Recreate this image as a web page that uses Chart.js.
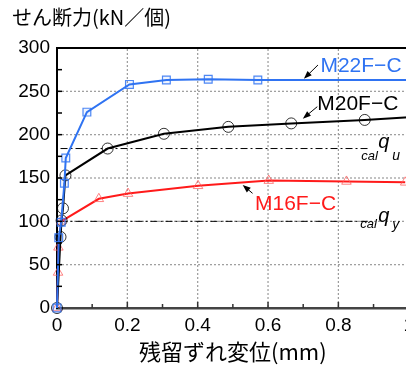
<!DOCTYPE html>
<html>
<head>
<meta charset="utf-8">
<script src="https://cdn.jsdelivr.net/npm/chart.js@4.4.0/dist/chart.umd.min.js"></script>
<style>
  html, body { margin: 0; padding: 0; background: #fff; overflow: hidden; }
  #wrap { width: 406px; height: 367px; overflow: hidden; }
</style>
</head>
<body>
<div id="wrap"><canvas id="chartCanvas" width="420" height="367"></canvas></div>
<script>
// residual slip (mm) vs shear force per stud (kN)
const m22Slip  = [0, 0.005, 0.012, 0.021, 0.025, 0.085, 0.206, 0.311, 0.43, 0.571, 1.0];
const m22Force = [0, 81, 99, 144, 173, 226, 258, 263, 264, 263, 263];
const m20Slip  = [0, 0.01, 0.013, 0.017, 0.024, 0.144, 0.304, 0.487, 0.666, 0.875, 1.0];
const m20Force = [0, 82, 101, 115, 153, 184, 201, 209, 213, 217, 220];
const m16Slip  = [0, 0.003, 0.004, 0.012, 0.119, 0.202, 0.401, 0.602, 0.823, 0.99];
const m16Force = [0, 41, 70, 100, 126, 132, 141, 147, 146, 145];

// calculated strengths (dash-dot reference lines)
const refSlip = [0.01, 0.885];
const calQu = [184, 184];
const calQy = [100, 100];

// tick labels
const xLabeled = [0, 0.2, 0.4, 0.6, 0.8, 1];
const yLabeled = [0, 50, 100, 150, 200, 250, 300];

const BLUE = '#2f73f2';
const RED = '#ff1a1a';
const GRID = '#9a9a9a';

function pts(xs, ys) {
  return xs.map((x, i) => ({ x: x, y: ys[i] }));
}

// no marker on the last point (the line runs on past the frame)
function radii(n, r) {
  const a = [];
  for (let i = 0; i < n; i++) a.push(i === n - 1 ? 0 : r);
  return a;
}

function isLabeled(list, v) {
  return list.some(t => Math.abs(t - v) < 1e-6);
}

function arrow(ctx, x1, y1, x2, y2) {
  const ang = Math.atan2(y2 - y1, x2 - x1);
  ctx.save();
  ctx.strokeStyle = '#000';
  ctx.fillStyle = '#000';
  ctx.lineWidth = 1;
  ctx.beginPath();
  ctx.moveTo(x1, y1);
  ctx.lineTo(x2 - 5 * Math.cos(ang), y2 - 5 * Math.sin(ang));
  ctx.stroke();
  ctx.beginPath();
  ctx.moveTo(x2, y2);
  ctx.lineTo(x2 - 8 * Math.cos(ang) + 3 * Math.sin(ang), y2 - 8 * Math.sin(ang) - 3 * Math.cos(ang));
  ctx.lineTo(x2 - 8 * Math.cos(ang) - 3 * Math.sin(ang), y2 - 8 * Math.sin(ang) + 3 * Math.cos(ang));
  ctx.closePath();
  ctx.fill();
  ctx.restore();
}

function segment(ctx, x1, y1, x2, y2) {
  ctx.beginPath();
  ctx.moveTo(x1, y1);
  ctx.lineTo(x2, y2);
  ctx.stroke();
}

// dotted grid under the curves
const gridLayer = {
  id: 'gridLayer',
  beforeDatasetsDraw(chart) {
    const ctx = chart.ctx;
    const area = chart.chartArea;
    const xs = chart.scales.x;
    const ys = chart.scales.y;
    ctx.save();
    ctx.strokeStyle = GRID;
    ctx.lineWidth = 1.2;
    ctx.setLineDash([2, 2]);
    xLabeled.forEach(v => {
      if (v > 0 && v < 1) {
        const px = xs.getPixelForValue(v);
        segment(ctx, px, area.top + 1, px, area.bottom - 1);
      }
    });
    yLabeled.forEach(v => {
      if (v > 0 && v < 300) {
        const py = ys.getPixelForValue(v);
        segment(ctx, area.left + 1, py, area.right, py);
      }
    });
    ctx.restore();
  }
};

// frame top, inner tick marks, series labels and the cal q labels
const decorations = {
  id: 'decorations',
  afterDraw(chart) {
    const ctx = chart.ctx;
    const area = chart.chartArea;
    const xs = chart.scales.x;
    const ys = chart.scales.y;

    ctx.save();
    ctx.strokeStyle = '#000';
    ctx.lineWidth = 2;
    segment(ctx, area.left - 1, area.top, area.right, area.top);

    ctx.lineWidth = 1.5;
    ctx.strokeStyle = '#333';
    for (let i = 1; i <= 10; i++) {
      const px = xs.getPixelForValue(i / 10);
      const len = (i % 2 === 0) ? 6 : 4;
      segment(ctx, px, area.bottom, px, area.bottom - len);
    }
    ctx.strokeStyle = '#000';
    for (let v = 25; v < 300; v += 25) {
      const py = ys.getPixelForValue(v);
      segment(ctx, area.left, py, area.left + 5, py);
    }

    ctx.font = '21px "Liberation Sans", Arial, sans-serif';
    ctx.textBaseline = 'alphabetic';
    ctx.textAlign = 'left';
    ctx.fillStyle = BLUE;
    ctx.fillText('M22F\u2212C', xs.getPixelForValue(0.749), ys.getPixelForValue(272.7));
    ctx.fillStyle = '#000';
    ctx.fillText('M20F\u2212C', xs.getPixelForValue(0.74), ys.getPixelForValue(228.5));
    ctx.fillStyle = RED;
    ctx.fillText('M16F\u2212C', xs.getPixelForValue(0.563), ys.getPixelForValue(113));

    arrow(ctx, xs.getPixelForValue(0.742), ys.getPixelForValue(280.4), xs.getPixelForValue(0.702), ys.getPixelForValue(264.5));
    arrow(ctx, xs.getPixelForValue(0.74), ys.getPixelForValue(232.3), xs.getPixelForValue(0.699), ys.getPixelForValue(218.5));
    arrow(ctx, xs.getPixelForValue(0.556), ys.getPixelForValue(132.3), xs.getPixelForValue(0.528), ys.getPixelForValue(142));

    ctx.fillStyle = '#000';
    const quY = ys.getPixelForValue(calQu[0]);
    const qyY = ys.getPixelForValue(calQy[0]);
    const labX = xs.getPixelForValue(0.865);
    ctx.font = 'italic 13px "Liberation Sans", Arial, sans-serif';
    ctx.fillText('cal', labX, quY + 11);
    ctx.fillText('cal', labX - 1, qyY + 7);
    ctx.font = 'italic 14px "Liberation Sans", Arial, sans-serif';
    ctx.fillText('u', labX + 31, quY + 11);
    ctx.fillText('y', labX + 31, qyY + 8);
    ctx.font = 'italic 20px "Liberation Sans", Arial, sans-serif';
    ctx.fillText('q', labX + 17, quY - 1);
    ctx.fillText('q', labX + 17, qyY + 1);
    ctx.restore();
  }
};

const tickFont = { family: '"Liberation Sans", Arial, sans-serif', size: 19 };
const jpFont = '"Noto Sans CJK JP", "Noto Sans", sans-serif';

new Chart(document.getElementById('chartCanvas'), {
  type: 'line',
  data: {
    datasets: [
      {
        label: 'M22F-C',
        data: pts(m22Slip, m22Force),
        borderColor: BLUE,
        borderWidth: 2,
        pointStyle: 'rect',
        pointRadius: radii(m22Slip.length, 5.5),
        pointBorderColor: 'rgba(47,115,242,0.85)',
        pointBackgroundColor: 'rgba(47,115,242,0.08)',
        pointBorderWidth: 1.2,
        clip: false,
        order: 1
      },
      {
        label: 'M20F-C',
        data: pts(m20Slip, m20Force),
        borderColor: '#000',
        borderWidth: 2,
        pointStyle: 'circle',
        pointRadius: radii(m20Slip.length, 5.5),
        pointBorderColor: 'rgba(0,0,0,0.8)',
        pointBackgroundColor: 'rgba(0,0,0,0)',
        pointBorderWidth: 1,
        clip: false,
        order: 2
      },
      {
        label: 'M16F-C',
        data: pts(m16Slip, m16Force),
        borderColor: RED,
        borderWidth: 2,
        pointStyle: 'triangle',
        pointRadius: 5.5,
        pointBorderColor: 'rgba(255,90,90,0.75)',
        pointBackgroundColor: 'rgba(255,0,0,0)',
        pointBorderWidth: 1,
        clip: false,
        order: 3
      },
      {
        label: 'cal qu',
        data: pts(refSlip, calQu),
        borderColor: '#000',
        borderWidth: 1,
        borderDash: [7, 3, 2, 3],
        pointRadius: 0,
        order: 4
      },
      {
        label: 'cal qy',
        data: pts(refSlip, calQy),
        borderColor: '#000',
        borderWidth: 1,
        borderDash: [7, 3, 2, 3],
        pointRadius: 0,
        order: 4
      }
    ]
  },
  options: {
    responsive: false,
    animation: false,
    events: [],
    layout: { padding: { left: 12, right: 0, top: 0, bottom: 0 } },
    elements: { line: { tension: 0 } },
    plugins: {
      legend: { display: false },
      tooltip: { enabled: false },
      title: {
        display: true,
        text: 'せん断力(kN／個)',
        align: 'start',
        color: '#000',
        font: { family: jpFont, size: 20, weight: 'normal' },
        padding: { top: 5, bottom: 19 }
      }
    },
    scales: {
      x: {
        type: 'linear',
        min: 0,
        max: 1,
        afterFit(scale) { scale.height = 59; },
        ticks: {
          stepSize: 0.1,
          autoSkip: false,
          maxRotation: 0,
          padding: 6,
          color: '#000',
          font: tickFont,
          callback: v => isLabeled(xLabeled, v) ? String(+(+v).toFixed(1)) : ''
        },
        grid: { display: false, drawTicks: false },
        border: { color: '#444', width: 2.5 },
        title: {
          display: true,
          text: '残留ずれ変位(mm)',
          color: '#000',
          font: { family: jpFont, size: 22, weight: 'normal' },
          padding: { top: 0, bottom: 2 }
        }
      },
      y: {
        type: 'linear',
        min: 0,
        max: 300,
        afterFit(scale) { scale.width = 45; },
        ticks: {
          stepSize: 25,
          autoSkip: false,
          padding: 7,
          color: '#000',
          font: tickFont,
          callback: v => isLabeled(yLabeled, v) ? String(v) : ''
        },
        grid: { display: false, drawTicks: false },
        border: { color: '#000', width: 2 }
      }
    }
  },
  plugins: [gridLayer, decorations]
});
</script>
</body>
</html>
